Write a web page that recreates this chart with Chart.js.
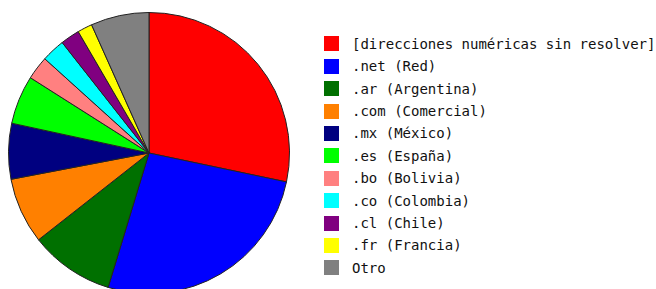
<!DOCTYPE html>
<html>
<head>
<meta charset="utf-8">
<script src="https://cdn.jsdelivr.net/npm/chart.js@4.4.1/dist/chart.umd.min.js"></script>
<style>
    html, body { margin: 0; padding: 0; background: #fff; overflow: hidden; }
    body { width: 656px; height: 289px; position: relative; }
    #chart-wrap { position: absolute; left: 0; top: 0; width: 298px; height: 306px; }
    #legend { position: absolute; left: 324px; top: 32.7px; font-family: "DejaVu Sans Mono", monospace; font-size: 14px; color: #111; }
    .legend-row { height: 22.4px; display: flex; align-items: center; white-space: nowrap; }
    .legend-box { width: 15px; height: 15px; margin-right: 13px; }
</style>
</head>
<body>
<div id="chart-wrap"><canvas id="pieChart"></canvas></div>
<div id="legend"></div>
<script>
const labels = [
    '[direcciones numéricas sin resolver]',
    '.net (Red)',
    '.ar (Argentina)',
    '.com (Comercial)',
    '.mx (México)',
    '.es (España)',
    '.bo (Bolivia)',
    '.co (Colombia)',
    '.cl (Chile)',
    '.fr (Francia)',
    'Otro'
];
const shares = [28.3, 26.4, 9.7, 7.6, 6.4, 5.6, 2.7, 2.7, 2.2, 1.7, 6.7];
const colors = ['#ff0000', '#0000ff', '#007000', '#ff8000', '#000080', '#00ff00', '#ff8080', '#00ffff', '#800080', '#ffff00', '#808080'];

document.getElementById('legend').innerHTML = labels.map((l, i) => `
    <div class="legend-row"><div class="legend-box" style="background:${colors[i]}"></div><span>${l}</span></div>
`).join('');

new Chart(document.getElementById('pieChart'), {
    type: 'pie',
    data: {
        labels,
        datasets: [{
            data: shares,
            backgroundColor: colors,
            borderColor: '#222',
            borderWidth: 1
        }]
    },
    options: {
        responsive: true,
        maintainAspectRatio: false,
        animation: false,
        layout: { padding: { top: 12, bottom: 12, left: 8, right: 8 } },
        plugins: {
            legend: { display: false },
            tooltip: { enabled: false }
        }
    }
});
</script>
</body>
</html>
